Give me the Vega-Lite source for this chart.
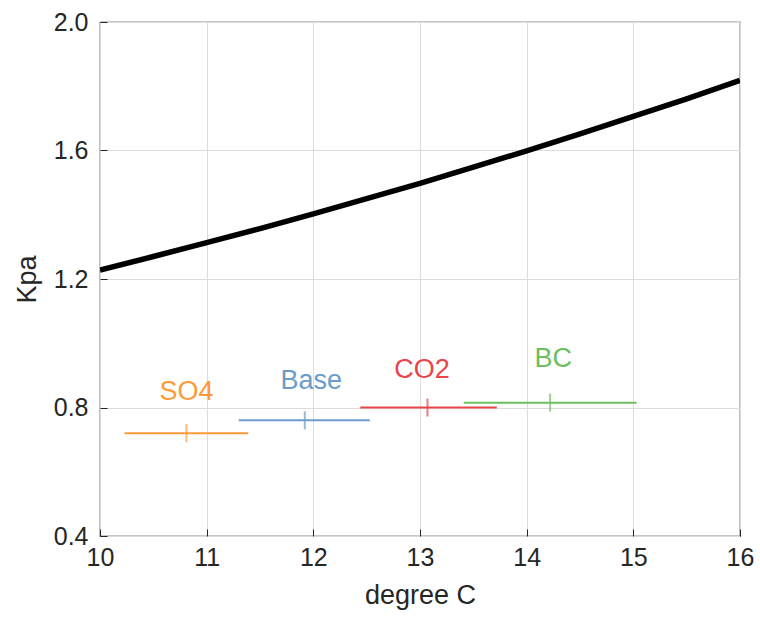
{
  "$schema": "https://vega.github.io/schema/vega-lite/v6.json",
  "width": 640,
  "height": 514,
  "autosize": {"type": "none"},
  "padding": {"left": 100, "top": 22, "right": 20, "bottom": 81},
  "background": "white",
  "config": {
    "font": "Liberation Sans",
    "view": {"stroke": "#262626", "strokeWidth": 1.2},
    "axis": {
      "domainColor": "#262626",
      "tickColor": "#262626",
      "gridColor": "#dcdcdc",
      "gridWidth": 1,
      "labelColor": "#262626",
      "titleColor": "#262626",
      "labelFont": "Liberation Sans",
      "titleFont": "Liberation Sans",
      "labelFontSize": 25,
      "titleFontSize": 27,
      "titleFontWeight": "normal",
      "labelFlush": false
    }
  },
  "datasets": {
    "curve": [
      {"t": 10, "p": 1.228},
      {"t": 10.5, "p": 1.270},
      {"t": 11, "p": 1.313},
      {"t": 11.5, "p": 1.357},
      {"t": 12, "p": 1.403},
      {"t": 12.5, "p": 1.450},
      {"t": 13, "p": 1.498},
      {"t": 13.5, "p": 1.548},
      {"t": 14, "p": 1.599},
      {"t": 14.5, "p": 1.652},
      {"t": 15, "p": 1.706},
      {"t": 15.5, "p": 1.761},
      {"t": 16, "p": 1.818}
    ],
    "runs": [
      {"name": "SO4", "lo": 10.23, "hi": 11.39, "mid": 10.81, "p": 0.72, "lx": 10.81, "ly": 0.847},
      {"name": "Base", "lo": 11.30, "hi": 12.53, "mid": 11.92, "p": 0.76, "lx": 11.98, "ly": 0.884},
      {"name": "CO2", "lo": 12.44, "hi": 13.72, "mid": 13.07, "p": 0.80, "lx": 13.02, "ly": 0.918},
      {"name": "BC", "lo": 13.41, "hi": 15.03, "mid": 14.22, "p": 0.815, "lx": 14.25, "ly": 0.952}
    ]
  },
  "layer": [
    {
      "data": {"name": "curve"},
      "mark": {"type": "line", "color": "black", "strokeWidth": 5.5, "clip": true},
      "encoding": {
        "x": {"field": "t", "type": "quantitative", "scale": {"domain": [10, 16], "nice": false}, "title": "degree C",
          "axis": {"values": [10, 11, 12, 13, 14, 15, 16], "format": "d", "grid": true, "tickSize": -7, "labelPadding": 16, "titlePadding": 12, "domain": false}},
        "y": {"field": "p", "type": "quantitative", "scale": {"domain": [0.4, 2.0], "nice": false, "zero": false}, "title": "Kpa",
          "axis": {"values": [0.4, 0.8, 1.2, 1.6, 2.0], "format": ".1f", "grid": true, "tickSize": -7, "labelPadding": 19, "titlePadding": 12, "domain": false}}
      }
    },
    {
      "data": {"name": "runs"},
      "mark": {"type": "rule", "strokeWidth": 2},
      "encoding": {
        "x": {"field": "lo", "type": "quantitative"},
        "x2": {"field": "hi"},
        "y": {"field": "p", "type": "quantitative"},
        "color": {"field": "name", "type": "nominal", "legend": null,
          "scale": {"domain": ["SO4", "Base", "CO2", "BC"], "range": ["#ff9a3a", "#6b9ccc", "#e8464a", "#6cbf5e"]}}
      }
    },
    {
      "data": {"name": "runs"},
      "mark": {"type": "tick", "orient": "vertical", "size": 18, "thickness": 2},
      "encoding": {
        "x": {"field": "mid", "type": "quantitative"},
        "y": {"field": "p", "type": "quantitative"},
        "color": {"field": "name", "type": "nominal", "legend": null}
      }
    },
    {
      "data": {"name": "runs"},
      "mark": {"type": "text", "fontSize": 27, "font": "Liberation Sans", "baseline": "middle", "align": "center"},
      "encoding": {
        "x": {"field": "lx", "type": "quantitative"},
        "y": {"field": "ly", "type": "quantitative"},
        "text": {"field": "name"},
        "color": {"field": "name", "type": "nominal", "legend": null}
      }
    }
  ]
}
